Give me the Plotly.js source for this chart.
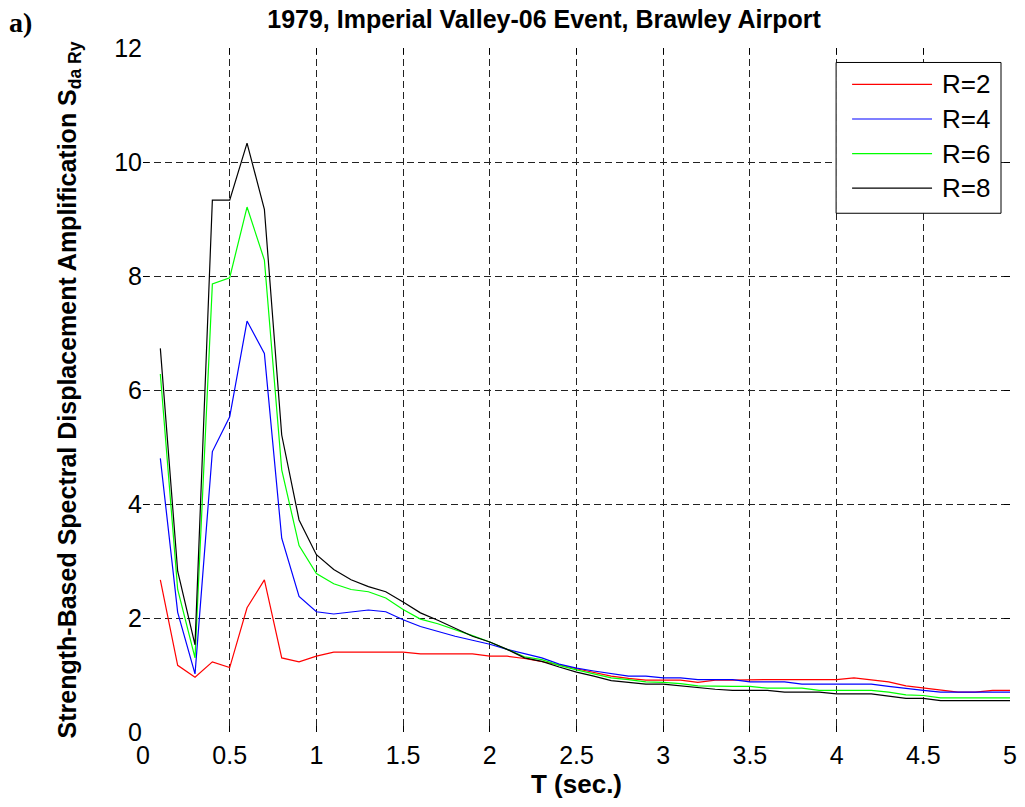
<!DOCTYPE html>
<html>
<head>
<meta charset="utf-8">
<script src="https://cdn.plot.ly/plotly-3.0.1.min.js"></script>
<style>html,body{margin:0;padding:0;background:#fff;}#chart{width:1025px;height:807px;}</style>
</head>
<body>
<div id="chart"></div>
<script>
const periods = [0.1,0.2,0.3,0.4,0.5,0.6,0.7,0.8,0.9,1.0,
  1.1,1.2,1.3,1.4,1.5,1.6,1.7,1.8,1.9,2.0,
  2.1,2.2,2.3,2.4,2.5,2.6,2.7,2.8,2.9,3.0,
  3.1,3.2,3.3,3.4,3.5,3.6,3.7,3.8,3.9,4.0,
  4.1,4.2,4.3,4.4,4.5,4.6,4.7,4.8,4.9,5.0];

const r2 = [2.67,1.17,0.96,1.23,1.13,2.18,2.67,1.30,1.23,1.33,
  1.40,1.40,1.40,1.40,1.40,1.37,1.37,1.37,1.37,1.33,
  1.33,1.29,1.24,1.18,1.11,1.05,0.98,0.94,0.91,0.91,
  0.91,0.87,0.91,0.91,0.92,0.92,0.92,0.92,0.92,0.92,
  0.95,0.92,0.88,0.81,0.77,0.74,0.70,0.70,0.73,0.73];

const r4 = [4.80,2.10,1.02,4.92,5.53,7.21,6.64,3.40,2.38,2.11,
  2.07,2.11,2.14,2.11,1.97,1.85,1.76,1.68,1.61,1.54,
  1.45,1.38,1.30,1.19,1.12,1.07,1.02,0.98,0.98,0.95,
  0.95,0.92,0.92,0.92,0.88,0.88,0.88,0.84,0.84,0.84,
  0.84,0.84,0.80,0.76,0.73,0.70,0.70,0.70,0.70,0.70];

const r6 = [6.28,2.50,1.30,7.86,7.97,9.21,8.28,4.60,3.27,2.78,
  2.60,2.50,2.46,2.35,2.15,1.98,1.90,1.80,1.69,1.58,
  1.45,1.32,1.27,1.17,1.09,1.02,0.95,0.92,0.88,0.87,
  0.85,0.81,0.80,0.80,0.80,0.77,0.77,0.77,0.73,0.73,
  0.73,0.73,0.70,0.65,0.64,0.60,0.60,0.60,0.60,0.60];

const r8 = [6.73,2.82,1.53,9.33,9.33,10.33,9.17,5.21,3.72,3.11,
  2.85,2.67,2.55,2.46,2.28,2.09,1.96,1.82,1.68,1.58,
  1.45,1.30,1.24,1.14,1.05,0.98,0.90,0.87,0.84,0.84,
  0.81,0.77,0.75,0.73,0.73,0.73,0.70,0.70,0.70,0.67,
  0.67,0.67,0.63,0.59,0.59,0.55,0.55,0.55,0.55,0.55];

const seriesNames = ['R=2','R=4','R=6','R=8'];
const seriesColors = ['#ff0000','#0000ff','#00ff00','#000000'];
const seriesValues = [r2, r4, r6, r8];

const xTickVals = [0,0.5,1,1.5,2,2.5,3,3.5,4,4.5,5];
const xTickText = ['0','0.5','1','1.5','2','2.5','3','3.5','4','4.5','5'];
const yTickVals = [0,2,4,6,8,10,12];
const yTickText = ['0','2','4','6','8','10','12'];

const traces = seriesValues.map((vals, i) => ({
  x: periods,
  y: vals,
  type: 'scatter',
  mode: 'lines',
  name: seriesNames[i],
  showlegend: false,
  line: {color: seriesColors[i], width: 1.2}
}));

const FONT = 'Liberation Sans, Arial, Helvetica, sans-serif';

// plot area in pixels (for converting the legend box to paper coordinates)
const PL = 142.5, PR = 1010, PT = 47.5, PB = 732.5;
const px2x = p => (p - PL) / (PR - PL);
const py2y = p => (PB - p) / (PB - PT);

const axisCommon = {
  showgrid: true,
  gridcolor: '#222222',
  griddash: '7px,4px',
  gridwidth: 1,
  zeroline: false,
  showline: false,
  ticks: 'inside',
  ticklen: 6,
  tickwidth: 1,
  tickcolor: '#000',
  mirror: 'ticks',
  tickfont: {family: FONT, size: 25, color: '#000'}
};

// legend (drawn as a box, sample lines and labels, built from the series arrays)
const legTop = 62, legBottom = 213, legLeft = 836, legRight = 1001;
const rowY = i => 84 + i * 34.6;
const shapes = [{
  type: 'rect', xref: 'paper', yref: 'paper', layer: 'above',
  x0: px2x(legLeft), x1: px2x(legRight), y0: py2y(legBottom), y1: py2y(legTop),
  fillcolor: '#ffffff', line: {color: '#000000', width: 1}
}];
const annotations = [{
  text: '<b>a)</b>', xref: 'paper', yref: 'paper',
  x: px2x(6), y: py2y(22),
  xanchor: 'left', yanchor: 'middle', showarrow: false,
  font: {family: 'Liberation Serif, Times New Roman, serif', size: 28, color: '#000'}
}];
seriesNames.forEach((name, i) => {
  shapes.push({
    type: 'line', xref: 'paper', yref: 'paper', layer: 'above',
    x0: px2x(852), x1: px2x(932), y0: py2y(rowY(i)), y1: py2y(rowY(i)),
    line: {color: seriesColors[i], width: 1.2}
  });
  annotations.push({
    text: name, xref: 'paper', yref: 'paper',
    x: px2x(940), y: py2y(rowY(i)),
    xanchor: 'left', yanchor: 'middle', showarrow: false,
    font: {family: FONT, size: 26, color: '#000'}
  });
});

const layout = {
  width: 1025,
  height: 807,
  paper_bgcolor: '#ffffff',
  plot_bgcolor: '#ffffff',
  margin: {l: PL, r: 1025 - PR, t: PT, b: 807 - PB, autoexpand: false},
  showlegend: false,
  title: {
    text: '<b>1979, Imperial Valley-06 Event, Brawley Airport</b>',
    font: {family: FONT, size: 25, color: '#000'},
    xref: 'container', yref: 'container',
    x: 544/1025, y: 1 - 19/807,
    xanchor: 'center', yanchor: 'middle'
  },
  xaxis: Object.assign({}, axisCommon, {
    range: [0, 5],
    tickvals: xTickVals,
    ticktext: xTickText,
    ticklabelstandoff: 6,
    title: {text: '<b>T (sec.)</b>', font: {family: FONT, size: 26, color: '#000'}, standoff: 6}
  }),
  yaxis: Object.assign({}, axisCommon, {
    range: [0, 12],
    tickvals: yTickVals,
    ticktext: yTickText,
    title: {text: '<b>Strength-Based Spectral Displacement Amplification S<sub>da Ry</sub></b>',
            font: {family: FONT, size: 25, color: '#000'}, standoff: 30}
  }),
  shapes: shapes,
  annotations: annotations
};

Plotly.newPlot('chart', traces, layout, {displayModeBar: false, staticPlot: true});
</script>
</body>
</html>
